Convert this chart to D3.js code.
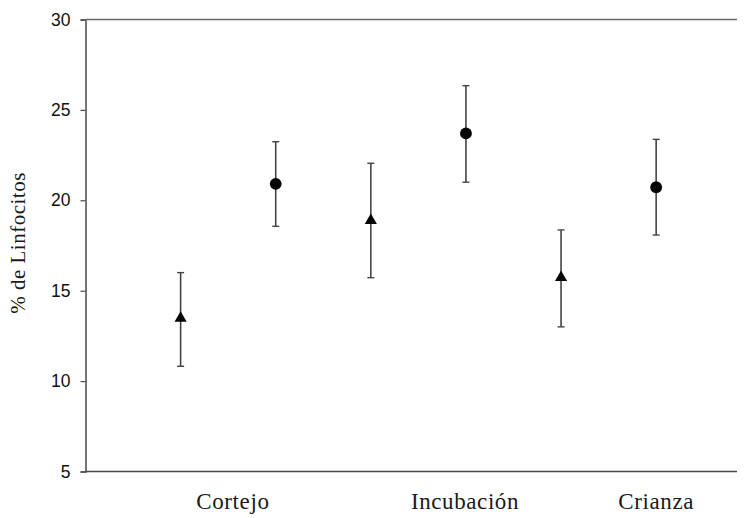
<!DOCTYPE html>
<html>
<head>
<meta charset="utf-8">
<script src="https://cdn.jsdelivr.net/npm/d3@7"></script>
<style>
  body { margin: 0; background: #fff; }
</style>
</head>
<body>
<div class="chart"></div>
<script>
// data
const positions = [1, 2, 3, 4, 5, 6];
const shapes = ['triangle', 'circle', 'triangle', 'circle', 'triangle', 'circle'];
const means = [13.47, 20.91, 18.88, 23.7, 15.73, 20.72];
const upper = [16.0, 23.24, 22.05, 26.34, 18.36, 23.37];
const lower = [10.82, 18.56, 15.72, 21.0, 13.0, 18.08];
const categories = ['Cortejo', 'Incubación', 'Crianza'];
const categoryPos = [1.55, 3.99, 6.0];
const yTicks = [5, 10, 15, 20, 25, 30];

const width = 745, height = 518;
const svg = d3.select('.chart')
    .append('svg')
    .attr('width', width)
    .attr('height', height);

const xScale = d3.scaleLinear()
    .domain([0, 6.85])
    .range([85.5, 737]);

const yScale = d3.scaleLinear()
    .domain([5, 30])
    .range([471.5, 19.5]);

const axisColor = '#4a4a4a';

// y axis
const yAxis = d3.axisLeft(yScale)
    .tickValues(yTicks)
    .tickSize(5)
    .tickPadding(10);

const gy = svg.append('g')
    .attr('transform', `translate(${xScale(0)},0)`)
    .call(yAxis);
gy.select('.domain').attr('stroke', axisColor).attr('stroke-width', 1.5);
gy.selectAll('.tick line').attr('stroke', axisColor).attr('stroke-width', 1.2);
gy.selectAll('.tick text')
    .attr('font-family', '"Liberation Sans", Arial, sans-serif')
    .attr('font-size', 17.5)
    .attr('fill', '#111');

// bottom and top lines
svg.append('line')
    .attr('x1', xScale(0)).attr('x2', xScale(6.85))
    .attr('y1', yScale(5)).attr('y2', yScale(5))
    .attr('stroke', axisColor).attr('stroke-width', 1.5);
svg.append('line')
    .attr('x1', xScale(0)).attr('x2', xScale(6.85))
    .attr('y1', yScale(30)).attr('y2', yScale(30))
    .attr('stroke', '#6a6a6a').attr('stroke-width', 1.3);

// category labels
svg.selectAll('.cat')
    .data(categories)
    .enter()
    .append('text')
    .attr('class', 'cat')
    .attr('x', (d, i) => xScale(categoryPos[i]))
    .attr('y', 509)
    .attr('text-anchor', 'middle')
    .attr('font-family', '"Liberation Serif", "Times New Roman", serif')
    .attr('font-size', 23)
    .attr('letter-spacing', 0.6)
    .attr('fill', '#1a1a1a')
    .text(d => d);

// y title
svg.append('text')
    .attr('transform', 'translate(25,243) rotate(-90)')
    .attr('text-anchor', 'middle')
    .attr('font-family', '"Liberation Serif", "Times New Roman", serif')
    .attr('font-size', 21)
    .attr('letter-spacing', 0.5)
    .attr('fill', '#1a1a1a')
    .text('% de Linfocitos');

// error bars
const bars = svg.selectAll('.err')
    .data(positions)
    .enter()
    .append('g')
    .attr('class', 'err');

bars.append('line')
    .attr('x1', d => xScale(d)).attr('x2', d => xScale(d))
    .attr('y1', (d, i) => yScale(upper[i]))
    .attr('y2', (d, i) => yScale(lower[i]))
    .attr('stroke', '#444').attr('stroke-width', 1.6);
bars.append('line')
    .attr('x1', d => xScale(d) - 3.5).attr('x2', d => xScale(d) + 3.5)
    .attr('y1', (d, i) => yScale(upper[i]))
    .attr('y2', (d, i) => yScale(upper[i]))
    .attr('stroke', '#444').attr('stroke-width', 1.4);
bars.append('line')
    .attr('x1', d => xScale(d) - 3.5).attr('x2', d => xScale(d) + 3.5)
    .attr('y1', (d, i) => yScale(lower[i]))
    .attr('y2', (d, i) => yScale(lower[i]))
    .attr('stroke', '#444').attr('stroke-width', 1.4);

// markers
svg.selectAll('.marker')
    .data(positions)
    .enter()
    .append('path')
    .attr('class', 'marker')
    .attr('d', (d, i) => shapes[i] === 'triangle'
        ? d3.symbol(d3.symbolTriangle, 64)()
        : d3.symbol(d3.symbolCircle, 110)())
    .attr('transform', (d, i) => `translate(${xScale(d)},${yScale(means[i])})`)
    .attr('fill', '#050505');
</script>
</body>
</html>
